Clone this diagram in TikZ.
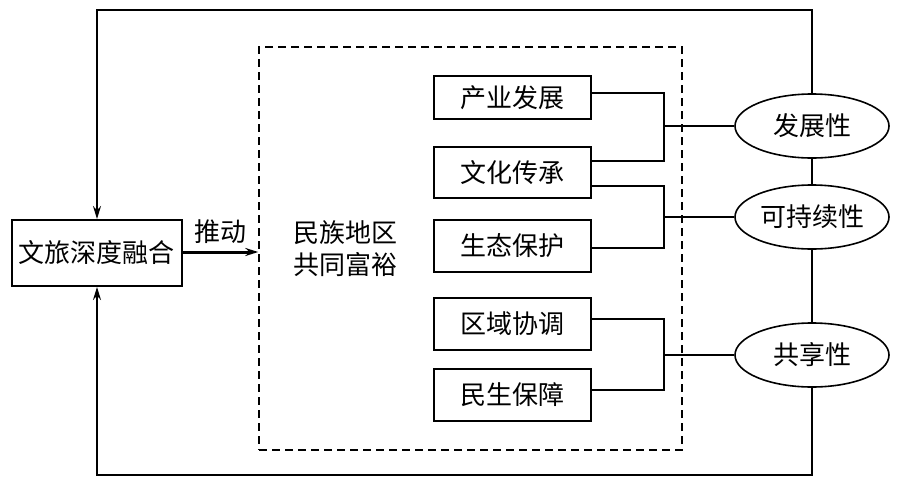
\documentclass[tikz,border=0pt]{standalone}
\usepackage{fontspec}
\setmainfont{Noto Sans CJK SC}
\usetikzlibrary{arrows.meta,shapes.geometric,positioning}
\begin{document}
\begin{tikzpicture}[x=1pt,y=-1pt,
  every node/.style={font=\fontsize{26}{32}\selectfont, inner sep=0pt},
  box/.style={draw, line width=1.8pt, minimum width=157pt, minimum height=52pt},
  oval/.style={draw, ellipse, line width=1.6pt, minimum width=154pt, minimum height=64pt},
  conn/.style={line width=1.8pt},
  loopline/.style={line width=1.8pt},
  tip/.style={-{Stealth[length=13pt,width=8pt]}}
]
\useasboundingbox (0,0) rectangle (897,477);
\node[box, line width=2pt, minimum width=170pt, minimum height=66pt] (lbox) at (97,253) {文旅深度融合};
\node[draw, dashed, line width=1.4pt, dash pattern=on 8pt off 5pt, minimum width=423pt, minimum height=403pt] (dash) at (470.5,248.5) {};
\node[align=center, font=\fontsize{26}{32}\selectfont] (goal) at (345,249) {民族地区\\共同富裕};
\node[box, minimum height=43pt] (b1) at (512.5,97.5) {产业发展};
\node[box, minimum height=51pt] (b2) at (512.5,172.5) {文化传承};
\node[box] (b3) at (512.5,246) {生态保护};
\node[box] (b4) at (512.5,324) {区域协调};
\node[box] (b5) at (512.5,395) {民生保障};
\node[oval] (e1) at (812,126) {发展性};
\node[oval] (e2) at (812,217) {可持续性};
\node[oval] (e3) at (812,355) {共享性};
\coordinate (tr) at (812,10);
\coordinate (br) at (812,475);
\coordinate (k1) at (664,126);
\coordinate (k2) at (664,217);
\coordinate (k3) at (664,355);
% push arrow
\draw[line width=3pt, tip] (lbox.east |- 0,252) -- (dash.west |- 0,252)
  node[midway, above=7pt] (push) {推动};
% brackets
\draw[conn] ([yshift=4.8pt]b1.east) -| (k1) |- ([yshift=11.5pt]b2.east);
\draw[conn] (k1) -- (e1.west);
\draw[conn] ([yshift=-13.2pt]b2.east) -| (k2) |- ([yshift=-1.7pt]b3.east);
\draw[conn] (k2) -- (e2.west);
\draw[conn] ([yshift=5pt]b4.east) -| (k3) |- ([yshift=5pt]b5.east);
\draw[conn] (k3) -- (e3.west);
% outer loop
\draw[loopline, tip] (e1.north) -- (tr) -| (lbox.north);
\draw[loopline] (e1.south) -- (e2.north);
\draw[loopline] (e2.south) -- (e3.north);
\draw[loopline, tip] (e3.south) -- (br) -| (lbox.south);
\end{tikzpicture}
\end{document}
